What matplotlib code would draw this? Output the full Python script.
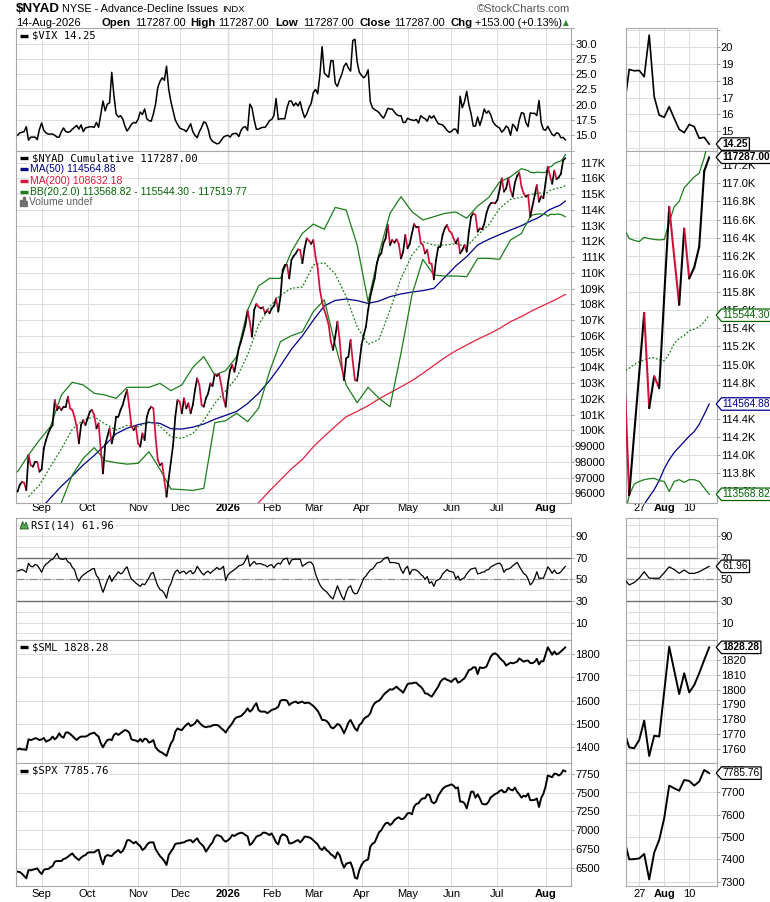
import numpy as np
import pandas as pd
import matplotlib
matplotlib.use("Agg")
import matplotlib.pyplot as plt
from matplotlib.collections import LineCollection
from matplotlib.lines import Line2D
from matplotlib.patches import Rectangle, Polygon
from matplotlib.path import Path

plt.rcParams['font.family'] = ['Liberation Sans', 'DejaVu Sans']

nan = np.nan

# one value per trading day, 15-Aug-2025 .. 14-Aug-2026
vix = [15.0, 15.4, 15.5, 15.6, 16.4, 14.2, 14.7, 14.7, 14.7, 14.3,
       16.0, 17.0, 15.8, 15.4, 15.2, 15.2, 15.2, 15.0, 14.7, 14.7,
       15.6, 16.2, 15.6, 15.5, 15.6, 16.0, 16.3, 16.6, 16.0, 16.7,
       15.6, 16.2, 16.3, 16.4, 16.4, 16.3, 17.1, 16.3, 18.5, 20.6,
       19.0, 20.1, 20.3, 25.3, 21.5, 18.5, 18.0, 18.2, 17.7, 16.5,
       15.7, 16.2, 16.8, 17.1, 17.0, 17.6, 18.8, 18.4, 19.3, 17.7,
       17.4, 17.3, 18.5, 20.1, 22.8, 23.8, 24.4, 24.0, 26.3, 22.5,
       20.5, 19.0, 17.5, 16.8, 16.2, 16.0, 15.9, 15.6, 16.2, 16.9,
       15.6, 15.0, 14.6, 15.6, 16.3, 17.2, 17.0, 16.0, 14.5, 14.0,
       13.8, 13.6, 13.7, 14.2, 14.7, 14.9, 15.0, 14.7, 15.2, 15.3,
       15.3, 14.8, 15.8, 16.3, 16.4, 15.8, 20.1, 19.5, 17.5, 16.0,
       16.0, 16.2, 16.3, 16.3, 16.8, 17.4, 17.6, 18.2, 21.0, 17.6,
       17.7, 17.7, 17.7, 19.5, 20.6, 20.6, 19.8, 20.3, 19.8, 20.5,
       19.0, 17.9, 18.5, 19.5, 20.2, 22.0, 22.5, 21.8, 24.9, 29.5,
       25.2, 24.8, 24.5, 27.2, 27.2, 23.5, 23.0, 24.1, 25.0, 26.3,
       26.8, 26.0, 25.5, 30.5, 30.7, 27.0, 25.3, 24.8, 24.4, 24.8,
       25.7, 20.5, 19.5, 19.2, 19.0, 18.7, 18.2, 17.8, 18.5, 19.4,
       19.3, 19.3, 18.8, 18.4, 18.2, 18.2, 17.1, 17.1, 17.8, 17.6,
       17.5, 17.4, 17.6, 17.0, 18.2, 17.9, 17.7, 17.3, 18.2, 17.8,
       18.2, 17.5, 16.9, 16.8, 16.7, 16.3, 15.8, 15.5, 15.6, 16.0,
       16.0, 15.3, 21.4, 19.5, 20.5, 22.2, 20.0, 18.5, 16.5, 16.5,
       18.0, 16.6, 17.8, 19.3, 18.6, 19.0, 18.3, 17.2, 16.7, 16.4,
       16.2, 15.5, 15.9, 16.5, 16.2, 15.0, 16.8, 16.4, 15.7, 17.5,
       18.7, 18.6, 17.1, 16.4, 18.66, 18.58, 18.6, 18.23, 20.69, 17.05,
       15.96, 15.83, 16.46, 15.77, 15.12, 14.92, 15.41, 15.28, 14.59, 14.65,
       14.25]

nyad = [96100, 96520, 96730, 96670, 96200, 98430, 97790, 97690, 98000, 98000,
        97370, 97520, 98850, 99380, 99800, 100120, 100330, 101920, 101290, 101500,
        101290, 101500, 101500, 102130, 101390, 101290, 100860, 100230, 99170, 100330,
        100650, 100330, 100760, 101180, 101290, 100970, 100120, 100440, 98750, 97260,
        99060, 99590, 100120, 99170, 99800, 100860, 100860, 101290, 101610, 102130,
        102560, 101500, 100230, 100020, 100230, 99170, 98960, 99800, 99380, 100860,
        101290, 101500, 101390, 99590, 98110, 97790, 97900, 96840, 95780, 96950,
        98000, 99060, 100860, 101920, 101820, 101080, 102030, 101390, 101710, 101080,
        101610, 102560, 103300, 102880, 101610, 101500, 102030, 102350, 102980, 102810,
        103570, 103450, 103570, 102880, 102030, 101500, 102980, 103830, 104150, 103720,
        104460, 105210, 105630, 106160, 106690, 107600, 106900, 105950, 107640, 108020,
        107850, 107750, 107810, 107430, 107640, 107430, 107750, 107900, 108380, 107540,
        108490, 110180, 110500, 110500, 109650, 110820, 111070, 111240, 111490, 111450,
        110610, 111560, 112190, 112050, 111840, 112090, 111030, 110290, 108910, 108170,
        107640, 107220, 106690, 105630, 105100, 105950, 106900, 105740, 104040, 103190,
        104570, 104680, 105740, 104360, 103190, 103150, 104250, 105420, 106050, 106580,
        107640, 108490, 109080, 109650, 110610, 111070, 111240, 111880, 112190, 113040,
        111770, 112090, 111920, 112130, 111840, 110920, 111350, 112410, 111560, 111840,
        112510, 113100, 112890, 112890, 111920, 111770, 111240, 111450, 110610, 110570,
        109590, 110820, 111620, 111660, 112410, 112830, 113040, 112680, 112550, 112190,
        111880, 112190, 111240, 111450, 111770, 111350, 112620, 113570, 113780, 113680,
        112620, 112830, 112770, 113100, 113780, 114210, 114420, 114460, 114420, 114630,
        115270, 116010, 115160, 115370, 116010, 115270, 114840, 115730, 116150, 116370,
        115480, 115050, 114840, 114950, 113560, 114240, 114900, 115570, 114520, 114870,
        114740, 115750, 116740, 116190, 115660, 116500, 115950, 116070, 116300, 117134,
        117287]

rsi = [57.7, 58.3, 58.9, 58.0, 56.5, 64.8, 62.0, 61.5, 63.7, 63.0,
       60.0, 56.5, 61.5, 64.0, 65.4, 67.7, 68.3, 71.0, 74.0, 69.4,
       68.6, 68.5, 69.4, 66.0, 65.0, 61.0, 59.0, 52.0, 48.2, 52.0,
       54.0, 55.5, 57.0, 57.9, 59.5, 60.0, 53.5, 51.0, 44.0, 38.0,
       43.5, 49.0, 53.5, 48.0, 51.5, 54.0, 57.0, 55.0, 56.0, 59.5,
       61.5, 55.0, 50.0, 48.5, 46.5, 45.0, 43.5, 45.8, 45.0, 48.0,
       51.5, 55.5, 56.2, 49.5, 44.0, 40.6, 39.5, 37.0, 32.5, 42.0,
       46.0, 52.5, 57.0, 58.6, 55.5, 57.0, 57.5, 55.0, 57.0, 58.0,
       55.0, 57.0, 62.0, 59.0, 56.0, 54.0, 56.5, 57.5, 55.5, 57.5,
       59.0, 61.0, 59.0, 60.0, 62.0, 48.8, 54.0, 56.0, 57.5, 59.0,
       60.5, 62.5, 63.0, 64.0, 67.5, 72.2, 62.0, 64.5, 66.5, 64.0,
       64.5, 64.5, 63.5, 63.0, 61.5, 63.0, 63.5, 60.5, 63.5, 65.0,
       64.0, 67.7, 69.0, 69.5, 63.7, 67.7, 68.5, 68.6, 68.6, 68.6,
       62.0, 63.5, 65.0, 66.0, 65.7, 63.0, 55.0, 49.5, 45.0, 42.0,
       40.0, 38.5, 36.0, 33.5, 31.8, 38.0, 44.0, 39.0, 34.0, 31.0,
       38.0, 42.5, 44.0, 38.5, 36.5, 37.0, 41.5, 46.0, 51.0, 53.0,
       56.0, 58.6, 59.5, 62.0, 65.0, 65.5, 66.3, 68.5, 70.0, 70.5,
       65.4, 65.5, 65.4, 65.0, 64.5, 59.0, 55.5, 60.0, 62.0, 54.5,
       58.5, 59.0, 58.5, 57.0, 54.5, 53.0, 50.0, 52.5, 46.3, 47.8,
       43.5, 48.5, 49.5, 51.0, 55.0, 57.0, 59.0, 57.5, 57.0, 56.5,
       50.5, 53.0, 49.0, 50.5, 51.5, 55.0, 57.5, 59.5, 60.0, 60.5,
       55.0, 55.5, 56.5, 56.8, 58.5, 59.0, 61.5, 62.5, 63.7, 64.5,
       65.0, 62.5, 56.5, 59.0, 59.5, 60.5, 62.5, 64.0, 65.7, 62.0,
       58.6, 55.5, 54.0, 50.5, 44.8, 47.0, 51.0, 57.0, 51.0, 51.0,
       51.0, 56.0, 61.5, 59.0, 55.5, 58.6, 55.5, 55.5, 57.0, 59.5,
       61.96]

sml = [1391, 1394, 1391, 1391, 1389, 1434, 1431, 1434, 1439, 1437,
       1431, 1434, 1440, 1424, 1429, 1434, 1446, 1434, 1443, 1460,
       1446, 1441, 1463, 1464, 1457, 1449, 1439, 1431, 1441, 1446,
       1446, 1446, 1450, 1457, 1460, 1463, 1453, 1446, 1417, 1400,
       1417, 1431, 1434, 1431, 1453, 1460, 1453, 1460, 1467, 1474,
       1471, 1463, 1434, 1431, 1429, 1424, 1436, 1424, 1437, 1434,
       1420, 1424, 1431, 1400, 1389, 1381, 1377, 1370, 1363, 1391,
       1417, 1431, 1467, 1481, 1476, 1474, 1486, 1496, 1503, 1491,
       1496, 1503, 1517, 1506, 1496, 1489, 1486, 1489, 1489, 1494,
       1496, 1496, 1491, 1481, 1474, 1463, 1479, 1491, 1503, 1520,
       1529, 1531, 1534, 1543, 1553, 1567, 1553, 1560, 1577, 1589,
       1560, 1553, 1553, 1553, 1546, 1553, 1560, 1563, 1567, 1574,
       1600, 1603, 1603, 1600, 1581, 1589, 1593, 1596, 1589, 1593,
       1596, 1589, 1591, 1591, 1584, 1577, 1567, 1556, 1539, 1517,
       1517, 1513, 1503, 1486, 1481, 1489, 1500, 1496, 1481, 1460,
       1481, 1506, 1517, 1499, 1481, 1471, 1496, 1503, 1521, 1529,
       1534, 1546, 1574, 1589, 1596, 1600, 1610, 1624, 1634, 1641,
       1649, 1647, 1653, 1660, 1650, 1643, 1634, 1653, 1671, 1674,
       1674, 1677, 1677, 1667, 1660, 1649, 1631, 1630, 1623, 1617,
       1631, 1646, 1660, 1681, 1691, 1696, 1689, 1686, 1680, 1691,
       1696, 1677, 1681, 1689, 1696, 1714, 1731, 1734, 1743, 1743,
       1714, 1743, 1740, 1741, 1746, 1767, 1789, 1800, 1803, 1796,
       1784, 1774, 1766, 1750, 1757, 1763, 1760, 1763, 1767, 1781,
       1774, 1767, 1771, 1772, 1761.3, 1760.7, 1766.2, 1779.2, 1755.5, 1769.1,
       1768.5, 1798.6, 1828.7, 1813.0, 1797.0, 1810.9, 1798.1, 1803.0, 1810.9, 1819.8,
       1828.28]

spx = [6447, 6442, 6420, 6389, 6358, 6469, 6465, 6473, 6482, 6491,
       6447, 6416, 6469, 6482, 6482, 6505, 6522, 6580, 6589, 6589,
       6589, 6616, 6625, 6647, 6669, 6691, 6651, 6625, 6602, 6634,
       6656, 6669, 6700, 6705, 6705, 6705, 6727, 6740, 6625, 6545,
       6647, 6669, 6660, 6656, 6691, 6714, 6736, 6700, 6723, 6780,
       6865, 6869, 6847, 6825, 6847, 6811, 6789, 6736, 6758, 6803,
       6834, 6838, 6838, 6749, 6700, 6656, 6625, 6589, 6536, 6669,
       6714, 6758, 6816, 6825, 6825, 6834, 6838, 6856, 6865, 6869,
       6838, 6869, 6892, 6838, 6811, 6780, 6714, 6758, 6803, 6838,
       6909, 6936, 6927, 6914, 6869, 6847, 6865, 6892, 6936, 6923,
       6945, 6958, 6967, 6958, 6936, 6918, 6803, 6825, 6869, 6914,
       6927, 6936, 6967, 6967, 6954, 6936, 6958, 6900, 6838, 6811,
       6914, 6945, 6936, 6914, 6825, 6825, 6838, 6856, 6869, 6838,
       6869, 6914, 6914, 6905, 6892, 6865, 6838, 6811, 6758, 6736,
       6776, 6736, 6714, 6678, 6660, 6625, 6705, 6669, 6571, 6500,
       6553, 6562, 6571, 6491, 6367, 6353, 6469, 6536, 6580, 6598,
       6611, 6780, 6820, 6838, 6905, 6972, 7000, 7052, 7092, 7101,
       7069, 7092, 7136, 7158, 7172, 7150, 7150, 7181, 7225, 7230,
       7212, 7314, 7350, 7359, 7403, 7425, 7425, 7479, 7470, 7381,
       7359, 7381, 7461, 7505, 7550, 7577, 7590, 7599, 7612, 7594,
       7559, 7572, 7381, 7381, 7359, 7292, 7403, 7514, 7514, 7434,
       7479, 7425, 7354, 7346, 7346, 7381, 7439, 7461, 7483, 7496,
       7523, 7537, 7505, 7514, 7568, 7541, 7532, 7568, 7514, 7479,
       7434, 7461, 7448, 7490, 7400, 7401, 7404, 7424, 7310, 7430,
       7487, 7584, 7730, 7718, 7707, 7755, 7751, 7730, 7748, 7800,
       7785.76]

# indicator readings: every 5th session up to 225, then every session
ind_days = list(range(0, 230, 5)) + list(range(230, 251))

ma50 = [nan, nan, 94900, 95700, 96450, 97100, 97800, 98400, 99070, 99780,
        100130, 100360, 100500, 100440, 100100, 100080, 100200, 100400, 100700, 100950,
        101200, 101700, 102350, 103150, 104100, 105150, 106000, 107000, 107900, 108250,
        108340, 108240, 108060, 108210, 108490, 108660, 108780, 108870, 109020, 109720,
        110440, 111030, 111770, 112130, 112430, 112720,
        113000, 113070, 113140, 113210, 113280, 113350, 113400, 113460, 113540, 113620,
        113720, 113850, 113950, 114030, 114090, 114150, 114210, 114260, 114340, 114450,
        114564.88]

ma200 = [nan] * 22 + [
        95400, 96150, 96850, 97550, 98150, 98950, 99620, 100250, 100860, 101200,
        101560, 102000, 102380, 102760, 103150, 103620, 104120, 104620, 105050, 105420,
        105780, 106110, 106470, 106900,
        107230, 107300, 107380, 107460, 107530, 107610, 107670, 107740, 107800, 107870,
        107930, 108000, 108070, 108130, 108200, 108260, 108330, 108410, 108480, 108560,
        108632.18]

bb_upper = [97370, 98430, 99380, 100230, 102240, 103050, 102880, 102350, 102240, 102030,
            102730, 102730, 102730, 102980, 102520, 102880, 104000, 104680, 103510, 103790,
            104680, 107640, 109170, 109650, 109650, 111350, 112510, 113100, 112770, 114160,
            113990, 111770, 108170, 111240, 113780, 114840, 113890, 113360, 113570, 113780,
            113870, 113470, 114250, 114780, 115770, 116110,
            116620, 116580, 116540, 116500, 116390, 116370, 116356, 116404, 116390, 116380,
            116375, 116380, 116570, 116740, 116800, 116950, 117010, 117070, 117110, 117280,
            117519.77]

bb_mid = [nan, 95780, 96520, 97690, 98810, 100060, 100650, 100860, 100400, 100020,
          100310, 100230, 100550, 100270, 99590, 99490, 99800, 100610, 101710, 102510,
          103340, 104780, 106690, 107850, 108590, 109020, 109100, 110500, 110650, 109930,
          108490, 106580, 105460, 105780, 107640, 109650, 111130, 111980, 111770, 111770,
          111850, 111660, 112410, 113040, 114100, 114670,
          114800, 114850, 114890, 114920, 114960, 115000, 115030, 115050, 115070, 115076,
          115050, 115043, 115120, 115230, 115290, 115320, 115375, 115390, 115415, 115470,
          115544.30]

bb_lower = [nan, nan, nan, nan, 95400, 97160, 98220, 98900, 98070, 97940,
            97850, 97900, 98640, 97520, 96270, 96230, 96180, 96310, 100480, 100610,
            101080, 100550, 101390, 103720, 105630, 106010, 106260, 107540, 108280, 105420,
            102880, 101750, 102730, 102030, 101500, 104890, 108600, 110860, 109860, 109800,
            109800, 109760, 110920, 110920, 110860, 112090,
            112500, 112800, 113050, 113300, 113560, 113680, 113710, 113730, 113740, 113745,
            113720, 113710, 113600, 113710, 113730, 113700, 113730, 113730, 113710, 113640,
            113568.82]

holidays = ['2025-09-01', '2025-11-27', '2025-12-25', '2026-01-01', '2026-01-19',
            '2026-02-16', '2026-04-03', '2026-05-25', '2026-06-19', '2026-07-03']

n = len(nyad)
days = np.arange(n)
dates = pd.bdate_range(end='2026-08-14', periods=n, freq='C', holidays=holidays)
month_pos = [i for i in range(1, n) if dates[i].month != dates[i - 1].month]
month_lab = ['2026' if dates[i].month == 1 else dates[i].strftime('%b') for i in month_pos]
year_pos = [i for i in month_pos if dates[i].month == 1]
zoom_pos = [int(np.searchsorted(dates, pd.Timestamp(d))) for d in ('2026-07-27', '2026-08-03', '2026-08-10')]
zoom_lab = ['27', 'Aug', '10']

RED = '#d0103a'
NAVY = '#00008b'
GREEN = '#1b7d1b'
DKGREEN = '#006400'
GRID = '#dcdcdc'
EDGE = '#a8a8a8'

W, H = 770, 902
fig = plt.figure(figsize=(W / 100, H / 100), dpi=100)


def panel(x0, x1, y0, y1):
    return fig.add_axes([x0 / W, 1 - y1 / H, (x1 - x0) / W, (y1 - y0) / H])


def ftext(px, py, s, **kw):
    kw.setdefault('va', 'center')
    return fig.text(px / W, 1 - py / H, s, parse_math=False, **kw)


def fline(px0, px1, py, color, lw=2.4):
    fig.add_artist(Line2D([px0 / W, px1 / W], [1 - py / H] * 2, color=color, lw=lw,
                          solid_capstyle='butt'))


def setup(ax, zoom, ylim, yt, fmt, labels_x=False, xpad=0.5):
    if zoom:
        ax.set_xlim(233.3, 251.5)
        xt, xl = zoom_pos, zoom_lab
    else:
        ax.set_xlim(-0.7, 252.6)
        xt, xl = month_pos, month_lab
    ax.set_ylim(*ylim)
    ax.set_xticks(xt)
    if labels_x:
        ax.set_xticklabels(xl, fontsize=8)
        for t in ax.get_xticklabels():
            if t.get_text() in ('2026', 'Aug'):
                t.set_fontweight('bold')
    else:
        ax.set_xticklabels([])
    ax.yaxis.tick_right()
    ax.set_yticks(yt)
    ax.set_yticklabels([fmt(v) for v in yt])
    for s in ax.spines.values():
        s.set_color(EDGE)
        s.set_linewidth(0.8)
    ax.tick_params(axis='x', length=0, pad=xpad)
    ax.tick_params(axis='y', length=2, width=0.6, color='#909090', labelsize=8, pad=1)
    ax.grid(True, color=GRID, lw=0.7)
    ax.set_axisbelow(True)
    if not zoom:
        for p in year_pos:
            ax.axvline(p, color='#b0b0b0', lw=0.9, zorder=0.5)


def pointer_box(x0, y0, width, height, mutation_size):
    # price tag: rectangle with a small arrow point on its left side
    pad = mutation_size * 0.12
    x0, y0 = x0 - pad, y0 - pad
    x1, y1 = x0 + width + 2 * pad, y0 + height + 2 * pad
    tip = (y1 - y0) * 0.42
    return Path([(x0, y0), (x1, y0), (x1, y1), (x0, y1), (x0 - tip, (y0 + y1) / 2), (x0, y0)],
                closed=True)


def tag(ax, value, text, color, bold=False):
    ax.annotate(text, xy=(1, value), xycoords=ax.get_yaxis_transform(),
                xytext=(4.3, 0), textcoords='offset points', ha='left', va='center',
                fontsize=7.4, fontweight='bold' if bold else 'normal', color=color,
                bbox=dict(boxstyle=pointer_box, fc='white', ec=color, lw=0.9),
                annotation_clip=False, zorder=10)


def updown(ax, lw):
    v = np.asarray(nyad, dtype=float)
    pts = np.column_stack([days, v])
    segs = np.stack([pts[:-1], pts[1:]], axis=1)
    cols = ['black' if d >= 0 else RED for d in np.diff(v)]
    ax.add_collection(LineCollection(segs, colors=cols, linewidths=lw,
                                     capstyle='round', joinstyle='round', zorder=4))


MX = (16, 571)
ZX = (625.7, 716.7)
ROWS = {'vix': (28.3, 151), 'nyad': (151, 502.7), 'rsi': (518.3, 640),
        'sml': (640, 763.3), 'spx': (763.3, 885.7)}

# ---- VIX ----
for zoom in (False, True):
    ax = panel(*(ZX if zoom else MX), *ROWS['vix'])
    if zoom:
        setup(ax, True, (13.84, 21.09), list(range(14, 22)),
              lambda v: '' if v in (14, 21) else f'{v:.0f}')
        ax.plot(days, vix, color='black', lw=1.2)
        tag(ax, vix[-1], f'{vix[-1]:.2f}', 'black', bold=True)
    else:
        setup(ax, False, (12.43, 32.15), list(np.arange(12.5, 32.6, 2.5)),
              lambda v: '' if v < 14 or v > 31 else f'{v:.1f}')
        ax.plot(days, vix, color='black', lw=1.1)

# ---- NYAD ----
for zoom in (False, True):
    ax = panel(*(ZX if zoom else MX), *ROWS['nyad'])
    if zoom:
        setup(ax, True, (113476, 117356), list(range(113600, 117300, 200)),
              lambda v: f'{v / 1000:.1f}K', labels_x=True, xpad=0.5)
    else:
        setup(ax, False, (95400, 117743), list(range(96000, 117001, 1000)),
              lambda v: f'{v / 1000:.0f}K' if v >= 100000 else f'{v:.0f}',
              labels_x=True, xpad=0.5)
        for t in ax.yaxis.get_major_ticks():
            t.label2.set_horizontalalignment('right')
        ax.tick_params(axis='y', pad=22.5)
    ax.plot(ind_days, ma200, color='#e0203f', lw=0.9, zorder=3)
    ax.plot(ind_days, ma50, color=NAVY, lw=0.9, zorder=3)
    ax.plot(ind_days, bb_upper, color=GREEN, lw=0.9, zorder=3)
    ax.plot(ind_days, bb_lower, color=GREEN, lw=0.9, zorder=3)
    ax.plot(ind_days, bb_mid, color=GREEN, lw=0.9, ls=(0, (1.5, 1.5)), zorder=3)
    updown(ax, 1.5 if zoom else 1.25)
    if zoom:
        tag(ax, nyad[-1], f'{nyad[-1]:.2f}', 'black', bold=True)
        tag(ax, bb_mid[-1], f'{bb_mid[-1]:.2f}', DKGREEN)
        tag(ax, ma50[-1], f'{ma50[-1]:.2f}', NAVY)
        tag(ax, bb_lower[-1], f'{bb_lower[-1]:.2f}', DKGREEN)

# ---- RSI ----
for zoom in (False, True):
    ax = panel(*(ZX if zoom else MX), *ROWS['rsi'])
    setup(ax, zoom, (-6.07, 106.35), [10, 30, 50, 70, 90], lambda v: f'{v:.0f}')
    ax.set_yticks(list(range(0, 101, 10)), minor=True)
    ax.tick_params(axis='y', which='minor', length=0)
    ax.grid(True, which='minor', axis='y', color=GRID, lw=0.7)
    ax.axhline(70, color='#707070', lw=1.0, zorder=2)
    ax.axhline(30, color='#707070', lw=1.0, zorder=2)
    ax.axhline(50, color='#8c8c8c', lw=0.9, ls='-.', zorder=2)
    ax.plot(days, rsi, color='black', lw=0.9, zorder=3)
    if zoom:
        tag(ax, rsi[-1], f'{rsi[-1]:.2f}', 'black')

# ---- SML ----
for zoom in (False, True):
    ax = panel(*(ZX if zoom else MX), *ROWS['sml'])
    if zoom:
        setup(ax, True, (1750.6, 1833.2), list(range(1760, 1831, 10)), lambda v: f'{v:.0f}')
        tag(ax, sml[-1], f'{sml[-1]:.2f}', 'black', bold=True)
    else:
        setup(ax, False, (1331.4, 1860), list(range(1400, 1801, 100)), lambda v: f'{v:.0f}')
    ax.plot(days, sml, color='black', lw=1.4)

# ---- SPX ----
for zoom in (False, True):
    ax = panel(*(ZX if zoom else MX), *ROWS['spx'])
    if zoom:
        setup(ax, True, (7282, 7829.8), list(range(7300, 7801, 100)), lambda v: f'{v:.0f}',
              labels_x=True, xpad=2.2)
        tag(ax, spx[-1], f'{spx[-1]:.2f}', 'black')
    else:
        setup(ax, False, (6259.9, 7892.7), list(range(6500, 7751, 250)), lambda v: f'{v:.0f}',
              labels_x=True, xpad=2.2)
    ax.plot(days, spx, color='black', lw=1.4)

# ---- legends inside panels ----
MONO = ['DejaVu Sans Mono']
wb = dict(fc='white', ec='none', pad=0.6)
fline(20, 28, 35.5, 'black')
ftext(31.5, 35.5, f'$VIX {vix[-1]:.2f}', family=MONO, fontsize=7.6, bbox=wb)

fline(20, 28, 158.3, 'black')
ftext(31.5, 158.3, f'$NYAD Cumulative {nyad[-1]:.2f}', family=MONO, fontsize=7.6, bbox=wb)
fline(20, 28, 169.3, NAVY)
ftext(30, 169.3, f'MA(50) {ma50[-1]:.2f}', color=NAVY, fontsize=7.5, bbox=wb)
fline(20, 28, 180.7, '#dc143c')
ftext(30, 180.7, f'MA(200) {ma200[-1]:.2f}', color='#dc143c', fontsize=7.5, bbox=wb)
fline(20, 28, 191.7, GREEN)
ftext(30, 191.7, f'BB(20,2.0) {bb_lower[-1]:.2f} - {bb_mid[-1]:.2f} - {bb_upper[-1]:.2f}',
      color=DKGREEN, fontsize=7.5, bbox=wb)
for bx, bh in ((20, 6), (22.6, 8), (25.2, 5)):
    fig.add_artist(Rectangle((bx / W, 1 - 205.5 / H), 2.0 / W, bh / H, color='#707070',
                             transform=fig.transFigure))
ftext(29, 201.7, 'Volume undef', color='#606060', fontsize=7.5, bbox=wb)

fig.add_artist(Polygon([(20 / W, 1 - 529 / H), (22.5 / W, 1 - 521.5 / H), (24.5 / W, 1 - 525.5 / H),
                        (26 / W, 1 - 522 / H), (28.5 / W, 1 - 529 / H)], closed=True,
                       fc='#5aa55a', ec='#1d5e1d', lw=0.6, transform=fig.transFigure))
ftext(31, 525, f'RSI(14) {rsi[-1]:.2f}', family=MONO, fontsize=7.6, bbox=wb)

fline(20, 28, 647.3, 'black')
ftext(31.5, 647.3, f'$SML {sml[-1]:.2f}', family=MONO, fontsize=7.6, bbox=wb)
fline(20, 28, 770.7, 'black')
ftext(31.5, 770.7, f'$SPX {spx[-1]:.2f}', family=MONO, fontsize=7.6, bbox=wb)

# ---- header ----
ftext(15.5, 9.5, '$NYAD', fontsize=9.6, fontweight='bold')
ftext(62.5, 9.5, 'NYSE - Advance-Decline Issues', fontsize=7.8)
ftext(222, 10, 'INDX', fontsize=6.8)
ftext(16.5, 22.7, '14-Aug-2026', fontsize=8)
for px, s, bold in ((101.7, 'Open', True), (135, '117287.00', False),
                    (190.7, 'High', True), (218.3, '117287.00', False),
                    (275, 'Low', True), (303.3, '117287.00', False),
                    (359.3, 'Close', True), (394, '117287.00', False),
                    (450.7, 'Chg', True), (475, '+153.00 (+0.13%)', False)):
    ftext(px, 22.7, s, fontsize=8.2 if bold else 7.8, fontweight='bold' if bold else 'normal')
ftext(565.5, 22.7, '\u25b2', fontsize=5.5, color='#2e8b2e', ha='center',
      family=['DejaVu Sans'])
ftext(570, 9.5, '\u00a9StockCharts.com', fontsize=8, color='#555555', ha='right')

fig.savefig('out.png', dpi=100)
